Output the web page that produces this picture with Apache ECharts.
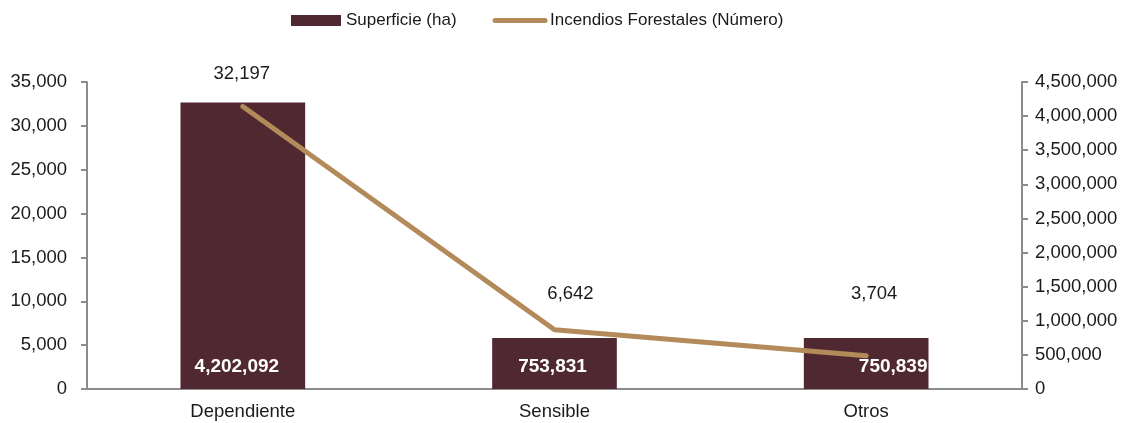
<!DOCTYPE html>
<html>
<head>
<meta charset="utf-8">
<script src="https://cdn.jsdelivr.net/npm/echarts@6/dist/echarts.min.js"></script>
<style>
	html, body { margin: 0; padding: 0; background: #fff; }
	#chart { width: 1128px; height: 423px; }
</style>
</head>
<body>
<div id="chart"></div>
<script>
	// datos
	var categorias = ['Dependiente', 'Sensible', 'Otros'];
	var superficie = [32650, 5820, 5820];           // barras (eje izq.)
	var superficieEtiq = ['32,197', '6,642', '3,704'];
	var incendios = [4142000, 869000, 488000];      // linea (eje der.)
	var incendiosEtiq = ['4,202,092', '753,831', '750,839'];

	var fmt = function (v) { return v.toLocaleString('en-US'); };
	var eje = { lineStyle: { color: '#8c8c8c', width: 2 } };

	var myChart = echarts.init(document.getElementById('chart'));
	myChart.setOption({
		animation: false,
		textStyle: { fontFamily: 'Liberation Sans, Arial, sans-serif', color: '#1a1a1a' },
		legend: {
			left: 286,
			top: 7,
			itemGap: 36,
			itemWidth: 50,
			itemHeight: 11,
			textStyle: { fontSize: 17, color: '#1a1a1a' },
			data: [
				{ name: 'Superficie (ha)', icon: 'rect' },
				{
					name: 'Incendios Forestales (Número)',
					itemStyle: { opacity: 0 },
					lineStyle: { width: 5, cap: 'round', color: '#b38b5b' }
				}
			]
		},
		grid: { left: 87, right: 106, top: 82, bottom: 34 },
		xAxis: {
			type: 'category',
			data: categorias,
			axisLine: eje,
			axisTick: { length: 5, lineStyle: { color: '#8c8c8c', width: 2 } },
			axisLabel: { fontSize: 18.5, color: '#1a1a1a', margin: 13 }
		},
		yAxis: [{
			type: 'value',
			min: 0, max: 35000, interval: 5000,
			axisLine: Object.assign({ show: true }, eje),
			axisTick: { show: true, length: 6, lineStyle: { color: '#8c8c8c', width: 2 } },
			splitLine: { show: false },
			axisLabel: { fontSize: 18.5, color: '#1a1a1a', margin: 20, formatter: fmt }
		}, {
			type: 'value',
			min: 0, max: 4500000, interval: 500000,
			axisLine: Object.assign({ show: true }, eje),
			axisTick: { show: true, length: 6, lineStyle: { color: '#8c8c8c', width: 2 } },
			splitLine: { show: false },
			axisLabel: { fontSize: 18.5, color: '#1a1a1a', margin: 13, formatter: fmt }
		}],
		series: [{
			name: 'Superficie (ha)',
			type: 'bar',
			barWidth: '40%',
			itemStyle: { color: '#502831' },
			data: superficie.map(function (v, i) {
				var off = [[-1, -14], [16, -30], [8, -30]][i];
				return { value: v, label: { offset: off } };
			}),
			label: {
				show: true,
				position: 'top',
				fontSize: 18.5,
				color: '#1a1a1a',
				formatter: function (p) { return superficieEtiq[p.dataIndex]; }
			}
		}, {
			// capa transparente solo para las etiquetas de incendios
			type: 'bar',
			barWidth: '40%',
			barGap: '-100%',
			silent: true,
			itemStyle: { color: 'transparent' },
			data: superficie.map(function (v, i) {
				var off = [[-6, -8], [-2, -8], [27, -8]][i];
				return { value: v, label: { offset: off } };
			}),
			label: {
				show: true,
				position: 'insideBottom',
				fontSize: 19,
				fontWeight: 'bold',
				color: '#ffffff',
				formatter: function (p) { return incendiosEtiq[p.dataIndex]; }
			},
			z: 5
		}, {
			name: 'Incendios Forestales (Número)',
			type: 'line',
			yAxisIndex: 1,
			data: incendios,
			symbol: 'none',
			lineStyle: { color: '#b38b5b', width: 5, cap: 'round', join: 'round' },
			itemStyle: { color: '#b38b5b' },
			z: 3
		}]
	});
</script>
</body>
</html>
